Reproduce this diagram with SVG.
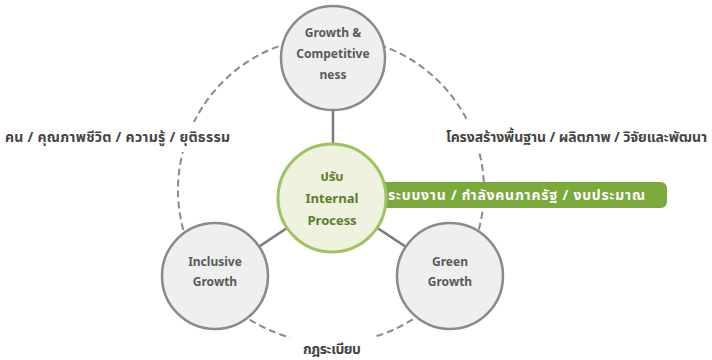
<svg xmlns="http://www.w3.org/2000/svg" width="712" height="360" viewBox="0 0 712 360">
<style>
.node{fill:#efefef;stroke:#8a8a8a;stroke-width:2.5}
.core{fill:#eef2df;stroke:#9fc264;stroke-width:3}
.nt{font-family:"Noto Sans","Liberation Sans",sans-serif;font-size:12px;font-weight:bold;fill:#5a5a5a;text-anchor:middle}
.ct{font-family:"Noto Sans Thai","Noto Sans","Liberation Sans",sans-serif;font-size:13px;font-weight:bold;fill:#5d7d2c;text-anchor:middle}
.th{font-family:"Noto Sans Thai","Noto Sans","Liberation Sans",sans-serif;font-size:14px;font-weight:bold;fill:#444}
.link{stroke:#7a7a7a;stroke-width:2.5;fill:none}
</style>
<rect width="712" height="360" fill="#ffffff"/>
<g id="ring">
<circle cx="331" cy="190" r="153" fill="none" stroke="#8a8a8a" stroke-width="2" stroke-dasharray="7 4"/>
</g>
<g id="labels-bg" fill="#ffffff">
<rect x="160" y="122" width="75" height="30"/>
<rect x="440" y="122" width="60" height="30"/>
<rect x="290" y="330" width="84" height="30"/>
</g>
<g id="connectors">
<line class="link" x1="333" y1="110" x2="333" y2="146"/>
<line class="link" x1="332" y1="198" x2="215" y2="276"/>
<line class="link" x1="332" y1="198" x2="450" y2="276"/>
</g>
<g id="bar">
<path d="M383 182 H661 a6 6 0 0 1 6 6 V202 a6 6 0 0 1 -6 6 H383 Z" fill="#7ca93e"/>
<text x="388" y="200" textLength="257" lengthAdjust="spacing" font-family="Noto Sans Thai,Noto Sans,Liberation Sans,sans-serif" font-size="14" font-weight="bold" fill="#ffffff">ระบบงาน / กำลังคนภาครัฐ / งบประมาณ</text>
</g>
<g id="node-top">
<circle class="node" cx="333" cy="58" r="52"/>
<text class="nt" x="333" y="37">Growth &amp;</text>
<text class="nt" x="333" y="58">Competitive</text>
<text class="nt" x="333" y="79">ness</text>
</g>
<g id="node-inclusive">
<circle class="node" cx="215" cy="276" r="53"/>
<text class="nt" x="215" y="266">Inclusive</text>
<text class="nt" x="215" y="286">Growth</text>
</g>
<g id="node-green">
<circle class="node" cx="450" cy="276" r="53"/>
<text class="nt" x="450" y="266">Green</text>
<text class="nt" x="450" y="286">Growth</text>
</g>
<g id="node-core">
<circle class="core" cx="332" cy="198" r="54"/>
<text class="ct" x="332" y="181">ปรับ</text>
<text class="ct" x="332" y="203">Internal</text>
<text class="ct" x="332" y="225">Process</text>
</g>
<g id="text-labels">
<text class="th" x="5" y="142" textLength="225" lengthAdjust="spacing">คน / คุณภาพชีวิต / ความรู้ / ยุติธรรม</text>
<text class="th" x="446" y="142" textLength="261" lengthAdjust="spacing">โครงสร้างพื้นฐาน / ผลิตภาพ / วิจัยและพัฒนา</text>
<text class="th" x="303" y="354" textLength="58" lengthAdjust="spacing">กฎระเบียบ</text>
</g>
</svg>
